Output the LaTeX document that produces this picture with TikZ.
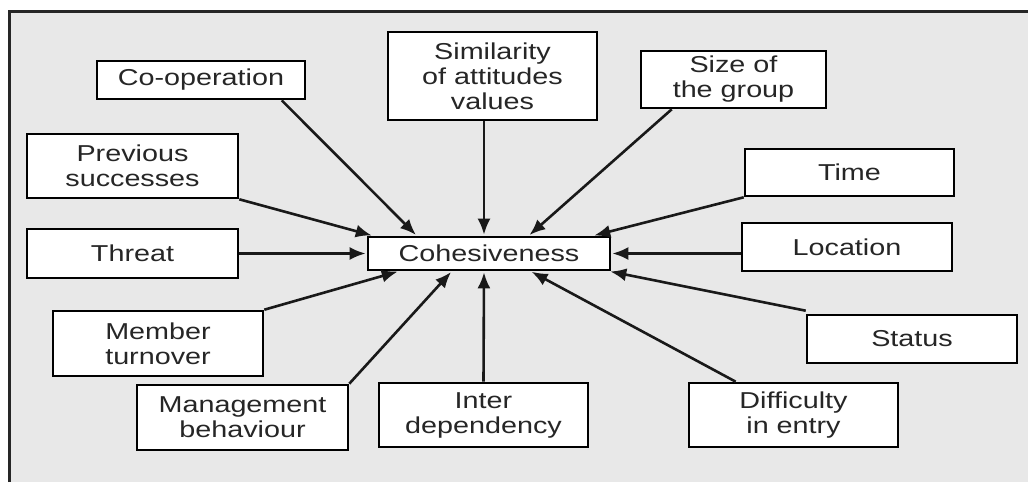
\documentclass[tikz,border=0pt]{standalone}
\usepackage{fontspec}
\setmainfont{Liberation Sans}[FakeStretch=1.25]
\usetikzlibrary{arrows.meta}
\definecolor{bggray}{HTML}{E8E8E8}
\definecolor{txt}{HTML}{262626}
\tikzset{
  box/.style={draw=black, line width=2.6pt, fill=white, rectangle, inner sep=0pt,
    align=center, text=txt, font=\fontsize{23}{25}\selectfont},
  arr/.style={draw=black!90, line width=2.6pt, -{Latex[length=16pt,width=13pt]}, shorten >=1pt}
}
\begin{document}
\begin{tikzpicture}[x=1pt,y=-1pt]
\useasboundingbox (0,0) rectangle (1028,482);
\fill[bggray] (9,11) rectangle (1028,482);
\draw[line width=3pt, black!85] (9,482) -- (9,11) -- (1028,11);

\node[box, minimum width=208pt, minimum height=38pt] (coop) at (201,80) {Co-operation};
\node[box, minimum width=211pt, minimum height=64pt] (prev) at (132.5,166) {Previous\\successes};
\node[box, minimum width=209pt, minimum height=88pt] (sim) at (492.5,76) {Similarity\\of attitudes\\values};
\node[box, minimum width=185pt, minimum height=57pt] (size) at (733.5,79.5) {Size of\\the group};
\node[box, minimum width=209pt, minimum height=47pt] (time) at (849.5,172.5) {Time};
\node[box, minimum width=210pt, minimum height=48pt] (loc) at (847,247) {Location};
\node[box, minimum width=211pt, minimum height=49pt] (threat) at (132.5,253.5) {Threat};
\node[box, minimum width=242pt, minimum height=33pt] (coh) at (489,253.5) {Cohesiveness};
\node[box, minimum width=210pt, minimum height=65pt] (mem) at (158,343.5) {Member\\turnover};
\node[box, minimum width=211pt, minimum height=65pt] (mgmt) at (242.5,417.5) {Management\\behaviour};
\node[box, minimum width=209pt, minimum height=64pt] (inter) at (483.5,415) {Inter\\dependency};
\node[box, minimum width=209pt, minimum height=64pt] (diff) at (793.5,415) {Difficulty\\in entry};
\node[box, minimum width=210pt, minimum height=48pt] (status) at (912,339) {Status};

\draw[arr] ([xshift=186pt]coop.south west) -- ([xshift=50pt]coh.north west);
\draw[arr] (prev.south east) -- ([xshift=6pt]coh.north west);
\draw[arr] ([xshift=-8.5pt]sim.south) -- ([xshift=-5pt]coh.north);
\draw[arr] ([xshift=32pt]size.south west) -- ([xshift=162pt]coh.north west);
\draw[arr] (time.south west) -- ([xshift=-18pt]coh.north east);
\draw[arr] (loc.west |- coh.east) -- (coh.east);
\draw[arr] (threat.east) -- (coh.west);
\draw[arr] (mem.north east) -- ([xshift=32pt]coh.south west);
\draw[arr] (mgmt.north east) -- ([xshift=85pt]coh.south west);
\draw[arr] (inter.north) -- ([xshift=-5pt]coh.south);
\draw[arr] ([xshift=48pt]diff.north west) -- ([xshift=164pt]coh.south west);
\draw[arr] ([yshift=3pt]status.north west) -- ([xshift=-2pt]coh.south east);
\end{tikzpicture}
\end{document}
